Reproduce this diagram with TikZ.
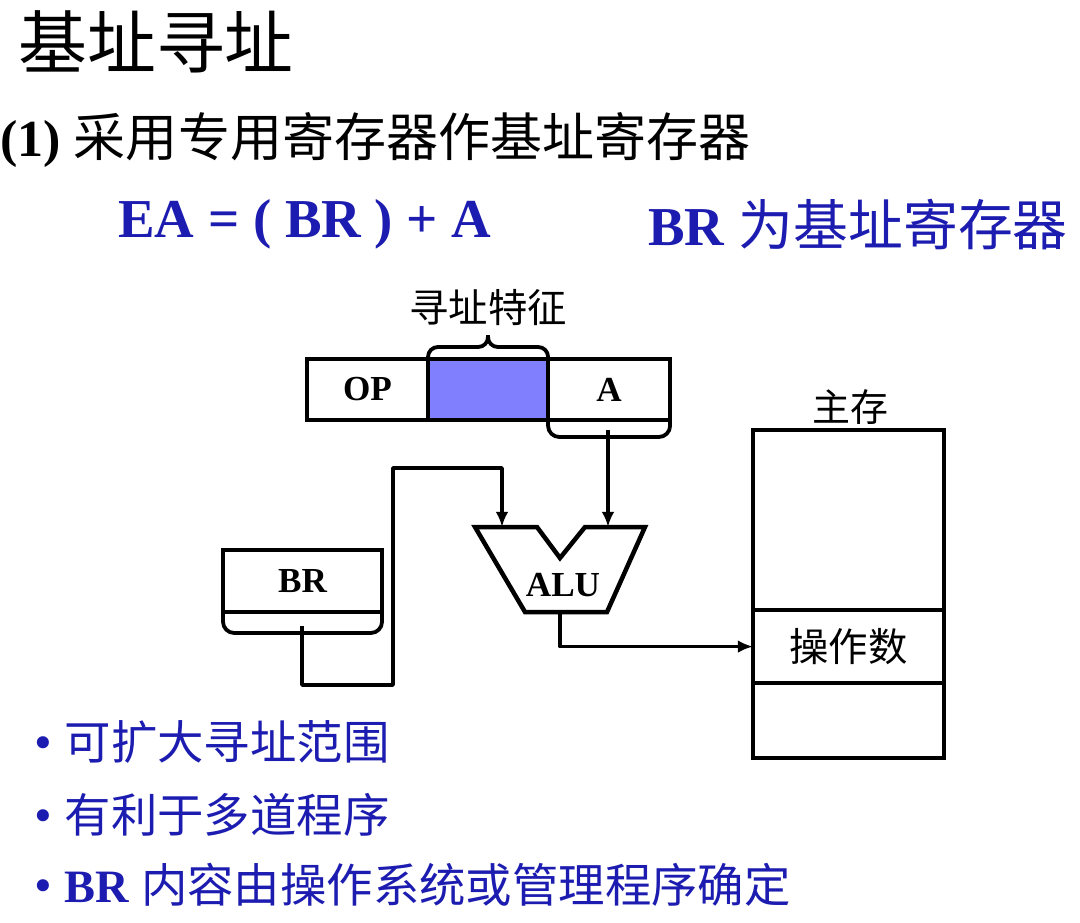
\documentclass[tikz,border=0pt]{standalone}
\usepackage{fontspec}
\setmainfont{Liberation Serif}
\newfontfamily\cjk{Noto Sans CJK SC}
\usetikzlibrary{arrows.meta,positioning}
\definecolor{slideblue}{HTML}{1C1CB0}
\definecolor{modefill}{HTML}{8080FF}
\newcommand{\fsz}[1]{\fontsize{#1}{#1}\selectfont}
\newcommand{\dotmark}{{\fsz{36}\textbullet}\hspace{9pt}}
\tikzset{
  wire/.style={line width=2.7pt, line join=round},
  wirearrow/.style={wire, -{Latex[length=3.8mm,width=3.2mm]}},
  field/.style={
    rectangle, draw, line width=3.2pt, inner sep=0pt, outer sep=0pt,
    minimum height=1.525cm, font=\bfseries\fsz{25}
  },
  memcell/.style={
    rectangle, draw, line width=3.2pt, inner sep=0pt, outer sep=0pt,
    minimum width=4.775cm, font=\cjk\fsz{28}
  },
  textline/.style={inner sep=0pt, anchor=west},
}

\begin{document}
\begin{tikzpicture}[x=0.025cm, y=-0.025cm]
  \useasboundingbox (0,0) rectangle (1080,922);

  % headings
  \node[textline] (title) at (18,42) {\cjk\fsz{49}基址寻址};
  \node[textline] (case) at (0,140) {\fsz{37}\textbf{(1)} {\cjk 采用专用寄存器作基址寄存器}};
  \node[textline, text=slideblue] (formula) at (118,224) {\fsz{39}\textbf{EA = ( BR ) + A}};
  \node[textline, text=slideblue] (brnote) at (648,224) {\fsz{39}\textbf{BR} {\cjk 为基址寄存器}};

  % instruction word
  \node[field, minimum width=3.025cm, anchor=north west] (op) at (307,359) {OP};
  \node[field, minimum width=3.0cm, fill=modefill, right=0pt of op] (mode) {};
  \node[field, minimum width=3.05cm, right=0pt of mode] (addr) {A};
  \node[inner sep=0pt, font=\cjk\fsz{28}] (modelbl) at (488,308) {寻址特征};
  \draw[wire, rounded corners=7pt] (mode.north west) -- ++(0,-12) -| (488,335);
  \draw[wire, rounded corners=7pt] (mode.north east) -- ++(0,-12) -| (488,335);

  % base register
  \node[field, minimum width=3.975cm, minimum height=1.55cm, anchor=north west] (br) at (223,550) {BR};

  % ALU
  \coordinate (aluinl) at (502,527);
  \coordinate (aluinr) at (608,527);
  \coordinate (aluout) at (560,612);
  \draw[line width=3.2pt, line join=miter]
    (475,527) -- (537,527) -- (560,558) -- (585,527) -- (645,527)
    -- (607,612) -- (525,612) -- cycle;
  \node[inner sep=0pt, font=\bfseries\fsz{25}] (alu) at (563,585) {ALU};

  % main memory
  \node[inner sep=0pt, font=\cjk\fsz{27}] (memlbl) at (850,407) {主存};
  \node[memcell, minimum height=4.5cm, anchor=north west] (memtop) at (753,430) {};
  \node[memcell, minimum height=1.825cm, below=0pt of memtop] (memop) {操作数};
  \node[memcell, minimum height=1.875cm, below=0pt of memop] (membot) {};

  % connectors
  \draw[wire, rounded corners=8pt] (addr.south west) |- (608,437);
  \draw[wire, rounded corners=8pt] (addr.south east) |- (608,437);
  \draw[wirearrow] (608,430) -- (aluinr);
  \draw[wire, rounded corners=8pt] (br.south west) |- (302,633);
  \draw[wire, rounded corners=8pt] (br.south east) |- (302,633);
  \draw[wirearrow] (302,626) |- (393,685) |- (502,468) -- (aluinl);
  \draw[wirearrow] (aluout) |- (memop.west);

  % remarks
  \node[textline, text=slideblue] (note1) at (34,742) {\dotmark\fsz{33}{\cjk 可扩大寻址范围}};
  \node[textline, text=slideblue] (note2) at (34,815) {\dotmark\fsz{33}{\cjk 有利于多道程序}};
  \node[textline, text=slideblue] (note3) at (34,885) {\dotmark\fsz{33}\textbf{BR} {\cjk 内容由操作系统或管理程序确定}};
\end{tikzpicture}
\end{document}
